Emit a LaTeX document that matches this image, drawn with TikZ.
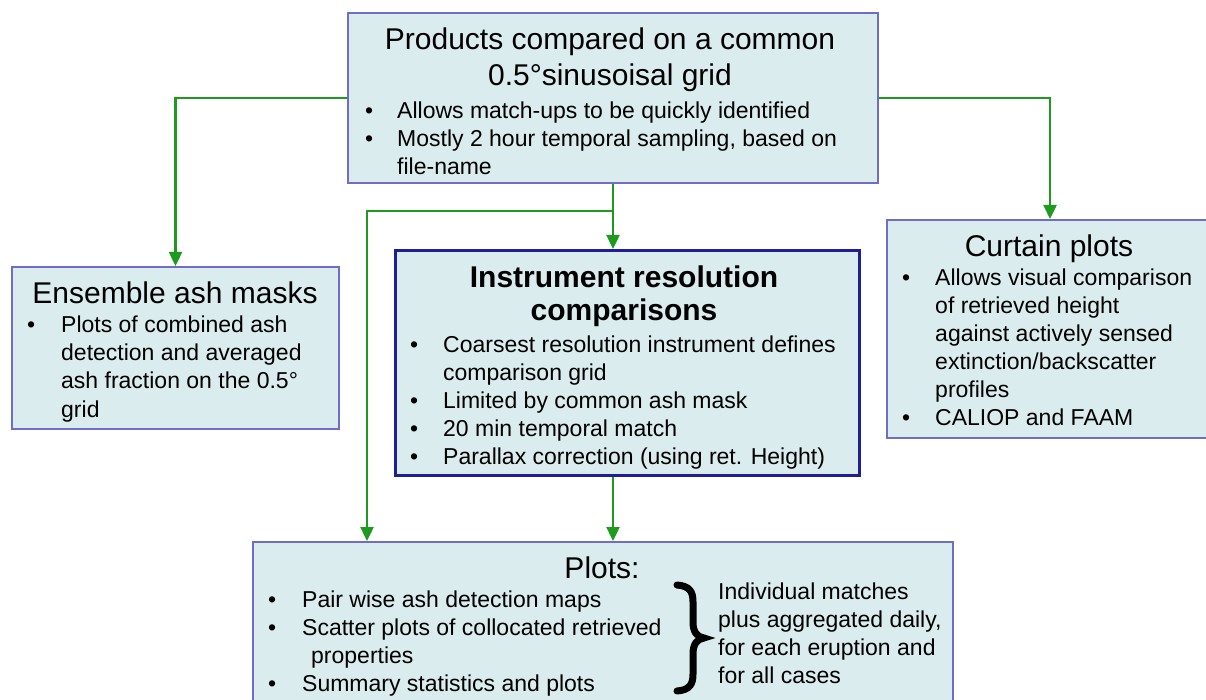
\documentclass[tikz,border=0pt]{standalone}
\usepackage{fontspec}
\setmainfont{Liberation Sans}
\usetikzlibrary{arrows.meta}
\definecolor{boxfill}{HTML}{DAECEE}
\definecolor{boxline}{HTML}{6E6EC4}
\definecolor{boxstrong}{HTML}{1E1E96}
\definecolor{linkgreen}{HTML}{1E9A1E}
% bullet line and continuation line with a given indent
\newcommand{\bl}[1]{\makebox[#1][l]{\textbullet}}
\newcommand{\cl}[1]{\hspace*{#1}}
\begin{document}
\begin{tikzpicture}[x=1pt,y=-1pt,
  box/.style={draw=boxline, line width=2pt, fill=boxfill, anchor=north west, inner sep=0pt},
  strongbox/.style={box, draw=boxstrong, line width=3.4pt},
  link/.style={draw=linkgreen, line width=2.4pt, -{Triangle[length=14pt,width=13pt]}},
  head/.style={font=\fontsize{30}{36}\selectfont, anchor=base, inner sep=0pt, align=center},
  body/.style={font=\fontsize{23}{28.2}\selectfont, anchor=base west, inner sep=0pt, align=left},
]
\useasboundingbox (0,0) rectangle (1206,700);

% boxes
\node[box, minimum width=530pt, minimum height=170pt] (top) at (347,12) {};
\node[box, minimum width=327pt, minimum height=162pt] (left) at (11,266) {};
\node[strongbox, minimum width=464pt, minimum height=225pt] (mid) at (394,249) {};
\node[box, minimum width=326pt, minimum height=218pt] (right) at (886,219) {};
\node[box, minimum width=700pt, minimum height=180pt] (bot) at (252,541) {};

% top box text (multi-line nodes are placed by the baseline of their last line)
\node[head, font=\fontsize{30}{36}\selectfont] (toph) at (610,86)
  {Products compared on a common\\0.5°sinusoisal grid};
\node[body] (topb) at (365,175)
  {\bl{32pt}Allows match-ups to be quickly identified\\
   \bl{32pt}Mostly 2 hour temporal sampling, based on\\
   \cl{32pt}file-name};

% left box text
\node[head] (lefth) at (175,303) {Ensemble ash masks};
\node[body] (leftb) at (27,417)
  {\bl{34pt}Plots of combined ash\\
   \cl{34pt}detection and averaged\\
   \cl{34pt}ash fraction on the 0.5°\\
   \cl{34pt}grid};

% middle box text
\node[head, font=\fontsize{30}{33}\selectfont\bfseries] (midh) at (624,320)
  {Instrument resolution\\comparisons};
\node[body, font=\fontsize{23}{28}\selectfont] (midb) at (410,464)
  {\bl{33pt}Coarsest resolution instrument defines\\
   \cl{33pt}comparison grid\\
   \bl{33pt}Limited by common ash mask\\
   \bl{33pt}20 min temporal match\\
   \bl{33pt}Parallax correction (using ret. Height)};

% right box text
\node[head] (righth) at (1049,257) {Curtain plots};
\node[body, font=\fontsize{23}{28}\selectfont] (rightb) at (902,425)
  {\bl{33pt}Allows visual comparison\\
   \cl{33pt}of retrieved height\\
   \cl{33pt}against actively sensed\\
   \cl{33pt}extinction/backscatter\\
   \cl{33pt}profiles\\
   \bl{33pt}CALIOP and FAAM};

% bottom box text
\node[head] (both) at (602,578) {Plots:};
\node[body, font=\fontsize{23}{28}\selectfont] (botb) at (268,691)
  {\bl{34pt}Pair wise ash detection maps\\
   \bl{34pt}Scatter plots of collocated retrieved\\
   \cl{43pt}properties\\
   \bl{34pt}Summary statistics and plots};
\node[body, font=\fontsize{23}{27.7}\selectfont] (botr) at (718,683)
  {Individual matches\\
   plus aggregated daily,\\
   for each eruption and\\
   for all cases};

% curly brace grouping the bottom list
\draw[line width=7pt, line cap=round]
  (677,585) .. controls (690,586) and (693,592) .. (693,602)
  -- (693,622) .. controls (693,632) and (697,637) .. (704,638)
  .. controls (697,639) and (693,644) .. (693,654)
  -- (693,674) .. controls (693,684) and (690,690) .. (677,691);

% connectors
\coordinate (split) at (612,211);
\draw[link] (top.west) -| (left.north);
\draw[link] (top.east) -| (right.north);
\draw[link] (top.south) -- (top.south |- mid.north);
\draw[link] (split) -| ([xshift=-236pt]bot.north);
\draw[link] (top.south |- mid.south) -- (top.south |- bot.north);
\end{tikzpicture}
\end{document}
